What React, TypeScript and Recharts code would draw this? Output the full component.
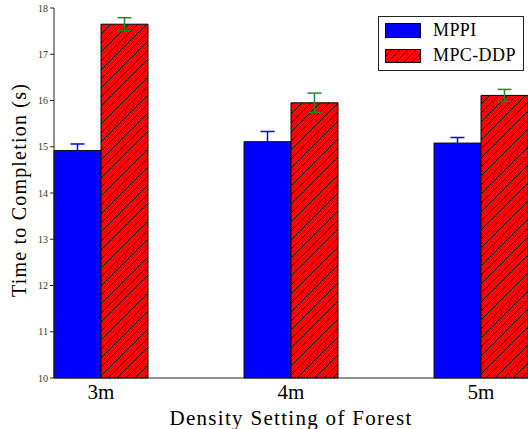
import React from 'react';
import { BarChart, Bar, XAxis, YAxis, ErrorBar, Legend } from 'recharts';

const categories = ['3m', '4m', '5m'];
const mppiTime = [14.92, 15.11, 15.08];
const mppiErr = [0.14, 0.22, 0.12];
const ddpTime = [17.65, 15.95, 16.11];
const ddpErr = [0.14, 0.21, 0.13];
const yTicks = [10, 11, 12, 13, 14, 15, 16, 17, 18];

const data = categories.map((name, i) => ({
  name,
  mppi: mppiTime[i],
  mppiErr: mppiErr[i],
  ddp: ddpTime[i],
  ddpErr: ddpErr[i],
}));

const serif = "'Liberation Serif', 'DejaVu Serif', serif";

const HatchDef = ({ id, size }: { id: string; size: number }) => (
  <pattern id={id} patternUnits="userSpaceOnUse" width={size} height={size}>
    <rect width={size} height={size} fill="#ff0000" />
    <path
      d={`M0,${size} L${size},0 M${-size / 4},${size / 4} L${size / 4},${-size / 4} M${size * 0.75},${size * 1.25} L${size * 1.25},${size * 0.75}`}
      stroke="#000"
      strokeWidth={1}
    />
  </pattern>
);

const renderLegend = () => (
  <div
    style={{
      width: 144,
      height: 53,
      border: '1px solid #222',
      background: '#fff',
      fontFamily: serif,
      fontSize: 18,
      letterSpacing: 0.4,
      color: '#000',
      position: 'relative',
    }}
  >
    <svg width={40} height={50} style={{ position: 'absolute', left: 6, top: 0 }}>
      <defs>
        <HatchDef id="legendHatch" size={8} />
      </defs>
      <rect x={0.5} y={6.5} width={35} height={14} fill="#0000ff" stroke="#000" />
      <rect x={0.5} y={32.5} width={35} height={13} fill="url(#legendHatch)" stroke="#000" />
    </svg>
    <div style={{ position: 'absolute', left: 54, top: 3, lineHeight: '21px' }}>MPPI</div>
    <div style={{ position: 'absolute', left: 54, top: 28, lineHeight: '21px' }}>MPC-DDP</div>
  </div>
);

export default function App() {
  return (
    <div style={{ position: 'absolute', left: 0, top: 0, width: 528, height: 429, background: '#fff' }}>
      <BarChart
        width={528}
        height={429}
        data={data}
        margin={{ top: 8, right: 0, bottom: 0, left: 0 }}
        barSize={47}
        barGap={0}
      >
        <defs>
          <HatchDef id="ddpHatch" size={9} />
        </defs>
        <XAxis
          dataKey="name"
          height={51}
          padding={{ left: -48, right: -48 }}
          tickLine={false}
          tickSize={0}
          tickMargin={6}
          axisLine={{ stroke: '#222', strokeWidth: 1 }}
          tick={{ fontFamily: serif, fontSize: 21, fill: '#000' }}
          label={{
            value: 'Density Setting of Forest',
            position: 'insideBottom',
            offset: 4,
            style: { fontFamily: serif, fontSize: 21, letterSpacing: 1.3, fill: '#000' },
          }}
        />
        <YAxis
          width={54}
          domain={[10, 18]}
          ticks={yTicks}
          interval={0}
          tickSize={4}
          tickMargin={2}
          axisLine={{ stroke: '#222', strokeWidth: 1 }}
          tickLine={{ stroke: '#222' }}
          tick={{ fontFamily: serif, fontSize: 10, fill: '#333' }}
          label={{
            value: 'Time to Completion (s)',
            angle: -90,
            position: 'center',
            dx: -8,
            dy: -3,
            style: { fontFamily: serif, fontSize: 20, letterSpacing: 1.2, fill: '#000', textAnchor: 'middle' },
          }}
        />
        <Legend
          layout="horizontal"
          verticalAlign="middle"
          align="center"
          content={renderLegend}
          wrapperStyle={{ position: 'absolute', left: 378, top: 16, width: 146, height: 55 }}
        />
        <Bar dataKey="mppi" name="MPPI" fill="#0000ff" stroke="#111" strokeWidth={1} isAnimationActive={false}>
          <ErrorBar dataKey="mppiErr" width={7} stroke="#0000ff" strokeWidth={1.5} direction="y" />
        </Bar>
        <Bar dataKey="ddp" name="MPC-DDP" fill="url(#ddpHatch)" stroke="#000" strokeWidth={1} isAnimationActive={false}>
          <ErrorBar dataKey="ddpErr" width={7} stroke="#1f8a1f" strokeWidth={1.5} direction="y" />
        </Bar>
      </BarChart>
    </div>
  );
}
